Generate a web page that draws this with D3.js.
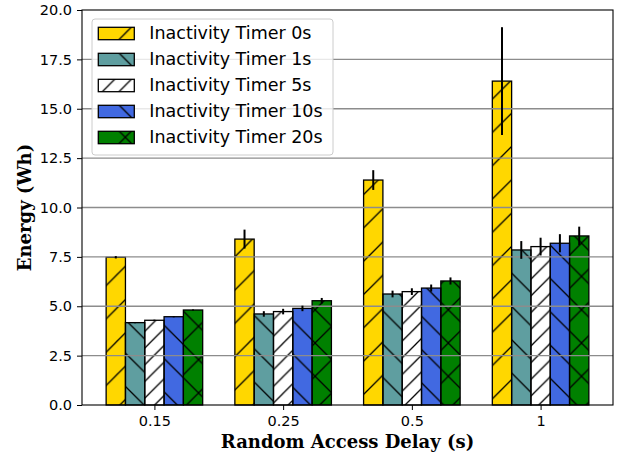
<!doctype html>
<html lang="en">
<head>
<meta charset="utf-8">
<title>Energy vs Random Access Delay</title>
<script src="https://cdn.jsdelivr.net/npm/d3@7"></script>
<style>
    body { margin: 0; background: #fff; }
    svg { display: block; }
</style>
</head>
<body>
<svg id="chart" width="618" height="459"></svg>
<script>
    // values
    const categories = ["0.15", "0.25", "0.5", "1"];
    const seriesNames = ["Inactivity Timer 0s", "Inactivity Timer 1s", "Inactivity Timer 5s",
        "Inactivity Timer 10s", "Inactivity Timer 20s"];
    const timer0 = [7.48, 8.40, 11.39, 16.40];
    const timer1 = [4.17, 4.61, 5.62, 7.85];
    const timer5 = [4.29, 4.73, 5.74, 8.02];
    const timer10 = [4.47, 4.89, 5.92, 8.19];
    const timer20 = [4.81, 5.28, 6.28, 8.56];
    const err0 = [0.06, 0.48, 0.50, 2.73];
    const err1 = [0.03, 0.14, 0.17, 0.45];
    const err5 = [0.03, 0.14, 0.17, 0.45];
    const err10 = [0.03, 0.14, 0.18, 0.46];
    const err20 = [0.03, 0.14, 0.18, 0.47];
    const yTicks = [0, 2.5, 5, 7.5, 10, 12.5, 15, 17.5, 20];

    const values = [timer0, timer1, timer5, timer10, timer20];
    const errors = [err0, err1, err5, err10, err20];
    const colors = ["#ffd700", "#5f9ea0", "#ffffff", "#4169e1", "#008000"];
    const hatches = ["/", "\\", "//", "\\", "x"];

    const svg = d3.select("#chart");
    const margin = {top: 10, right: 5, bottom: 54, left: 82};
    const width = +svg.attr("width") - margin.left - margin.right;
    const height = +svg.attr("height") - margin.top - margin.bottom;
    const barW = 0.15;

    const x = d3.scaleLinear()
        .domain([-0.5625, categories.length - 1 + 0.5625])
        .range([0, width]);
    const y = d3.scaleLinear()
        .domain([0, 20])
        .range([height, 0]);

    // hatch patterns, tiled in page space like matplotlib does
    const defs = svg.append("defs");
    function hatchPattern(id, kind) {
        const s = kind === "//" ? 16.7 : 33.3;
        const p = defs.append("pattern")
            .attr("id", id)
            .attr("patternUnits", "userSpaceOnUse")
            .attr("width", s)
            .attr("height", s);
        let d = "";
        if (kind === "/" || kind === "//" || kind === "x") {
            d += "M0," + s + "L" + s + ",0M" + (-s / 4) + "," + (s / 4) + "L" + (s / 4) + "," + (-s / 4) +
                "M" + (3 * s / 4) + "," + (5 * s / 4) + "L" + (5 * s / 4) + "," + (3 * s / 4);
        }
        if (kind === "\\" || kind === "x") {
            d += "M0,0L" + s + "," + s + "M" + (-s / 4) + "," + (3 * s / 4) + "L" + (s / 4) + "," + (5 * s / 4) +
                "M" + (3 * s / 4) + "," + (-s / 4) + "L" + (5 * s / 4) + "," + (s / 4);
        }
        p.append("path")
            .attr("d", d)
            .attr("stroke", "#000")
            .attr("stroke-width", 1.3)
            .attr("fill", "none");
    }
    hatches.forEach((h, i) => hatchPattern("hatch" + i, h));

    const g = svg.append("g")
        .attr("transform", "translate(" + margin.left + "," + margin.top + ")");

    // bars
    const bars = [];
    values.forEach((vals, j) => {
        vals.forEach((v, i) => {
            bars.push({s: j, i: i, v: v, e: errors[j][i], cx: i + (j - 2) * barW});
        });
    });

    const barG = g.append("g");
    barG.selectAll("rect.fill")
        .data(bars)
        .enter().append("rect")
        .attr("class", "fill")
        .attr("x", d => x(d.cx - barW / 2))
        .attr("width", d => x(d.cx + barW / 2) - x(d.cx - barW / 2))
        .attr("y", d => y(d.v))
        .attr("height", d => y(0) - y(d.v))
        .attr("fill", d => colors[d.s]);
    barG.selectAll("rect.hatch")
        .data(bars)
        .enter().append("rect")
        .attr("class", "hatch")
        .attr("x", d => x(d.cx - barW / 2))
        .attr("width", d => x(d.cx + barW / 2) - x(d.cx - barW / 2))
        .attr("y", d => y(d.v))
        .attr("height", d => y(0) - y(d.v))
        .attr("fill", d => "url(#hatch" + d.s + ")")
        .attr("stroke", "#000")
        .attr("stroke-width", 1.3);

    // grid above the bars
    g.append("g")
        .selectAll("line")
        .data(yTicks.slice(1, -1))
        .enter().append("line")
        .attr("x1", 0)
        .attr("x2", width)
        .attr("y1", d => y(d))
        .attr("y2", d => y(d))
        .attr("stroke", "#8c8c8c")
        .attr("stroke-width", 1.4);

    // error bars
    g.append("g")
        .selectAll("line")
        .data(bars)
        .enter().append("line")
        .attr("x1", d => x(d.cx))
        .attr("x2", d => x(d.cx))
        .attr("y1", d => y(d.v - d.e))
        .attr("y2", d => y(d.v + d.e))
        .attr("stroke", "#000")
        .attr("stroke-width", 2);

    // axes
    const yAxis = g.append("g")
        .call(d3.axisLeft(y).tickValues(yTicks).tickFormat(d3.format(".1f")).tickSize(5).tickPadding(5));
    const xAxis = g.append("g")
        .attr("transform", "translate(0," + height + ")")
        .call(d3.axisBottom(x).tickValues(d3.range(categories.length))
            .tickFormat(i => categories[i]).tickSize(5).tickPadding(6));
    [yAxis, xAxis].forEach(a => {
        a.select(".domain").remove();
        a.selectAll("text")
            .attr("font-family", "DejaVu Sans")
            .attr("font-size", "14.5px")
            .attr("fill", "#000");
        a.selectAll(".tick line").attr("stroke", "#000").attr("stroke-width", 1);
    });

    g.append("rect")
        .attr("x", 0)
        .attr("y", 0)
        .attr("width", width)
        .attr("height", height)
        .attr("fill", "none")
        .attr("stroke", "#000")
        .attr("stroke-width", 1.1);

    // axis labels
    svg.append("text")
        .attr("x", margin.left + width / 2)
        .attr("y", 448)
        .attr("text-anchor", "middle")
        .attr("font-family", "DejaVu Serif")
        .attr("font-weight", "bold")
        .attr("font-size", "18px")
        .text("Random Access Delay (s)");
    svg.append("text")
        .attr("transform", "translate(31," + (margin.top + height / 2) + ") rotate(-90)")
        .attr("text-anchor", "middle")
        .attr("font-family", "DejaVu Serif")
        .attr("font-weight", "bold")
        .attr("font-size", "18px")
        .text("Energy (Wh)");

    // legend
    const legend = svg.append("g").attr("transform", "translate(92,19)");
    legend.append("rect")
        .attr("width", 241)
        .attr("height", 136)
        .attr("rx", 3)
        .attr("fill", "#fff")
        .attr("fill-opacity", 0.8)
        .attr("stroke", "#cccccc")
        .attr("stroke-width", 1);
    const item = legend.selectAll("g.item")
        .data(seriesNames)
        .enter().append("g")
        .attr("class", "item")
        .attr("transform", (d, i) => "translate(0," + (14.3 + i * 26) + ")");
    item.append("rect")
        .attr("x", 6.3)
        .attr("y", -6)
        .attr("width", 36)
        .attr("height", 12.4)
        .attr("fill", (d, i) => colors[i]);
    item.append("rect")
        .attr("x", 6.3)
        .attr("y", -6)
        .attr("width", 36)
        .attr("height", 12.4)
        .attr("fill", (d, i) => "url(#hatch" + i + ")")
        .attr("stroke", "#000")
        .attr("stroke-width", 1.3);
    item.append("text")
        .attr("x", 57.3)
        .attr("y", 6)
        .attr("font-family", "DejaVu Sans")
        .attr("font-size", "17.5px")
        .text(d => d);
</script>
</body>
</html>
